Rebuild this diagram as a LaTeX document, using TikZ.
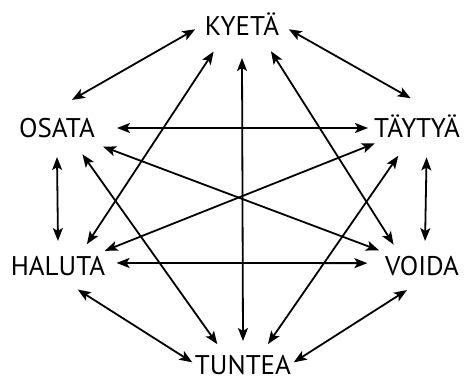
\documentclass[tikz,border=0pt]{standalone}
\usepackage{fontspec}
\setmainfont{PT Sans}
\usetikzlibrary{shapes.geometric, arrows.meta}

\begin{document}
\begin{tikzpicture}[x=1pt, y=-1pt, >={Stealth[length=13pt, width=10pt, inset=3pt]},
        spot/.style={ellipse, inner sep=0pt, outer sep=0pt},
        word/.style={font=\fontsize{27}{30}\selectfont, text height=18.9pt, text depth=0pt, inner sep=0pt},
        link/.style={<->, line width=1.8pt}]
        \useasboundingbox (0,0) rectangle (464,383);
        \node[spot, minimum width=94pt, minimum height=64pt, label={[word]center:KYETÄ}] (kyeta) at (242,26) {};
        \node[spot, minimum width=120pt, minimum height=58pt, label={[word]center:OSATA}] (osata) at (57,128) {};
        \node[spot, minimum width=98pt, minimum height=60pt, label={[word]center:TÄYTYÄ}] (taytya) at (417,128) {};
        \node[spot, minimum width=118pt, minimum height=50pt, label={[word]center:HALUTA}] (haluta) at (58,266) {};
        \node[spot, minimum width=110pt, minimum height=50pt, label={[word]center:VOIDA}] (voida) at (422,266) {};
        \node[spot, minimum width=102pt, minimum height=48pt, label={[word]center:TUNTEA}] (tuntea) at (243,365) {};

        \draw[link] (kyeta.184) -- (osata.62);
        \draw[link] (kyeta.356) -- (taytya.102);
        \draw[link] (kyeta.222) -- (haluta.37);
        \draw[link] (kyeta.south) -- (tuntea.north);
        \draw[link] (kyeta.319) -- (voida.143);
        \draw[link] (osata.east) -- (taytya.west);
        \draw[link] (osata.338) -- (voida.160);
        \draw[link] (osata.314) -- (tuntea.141);
        \draw[link] (osata.south) -- (haluta.north);
        \draw[link] (taytya.200) -- (haluta.18);
        \draw[link] (taytya.236) -- (tuntea.40);
        \draw[link] (taytya.288) -- (voida.83);
        \draw[link] (haluta.3) -- (voida.177);
        \draw[link] (haluta.310) -- (tuntea.177);
        \draw[link] (voida.238) -- (tuntea.3);
    \end{tikzpicture}
\end{document}
